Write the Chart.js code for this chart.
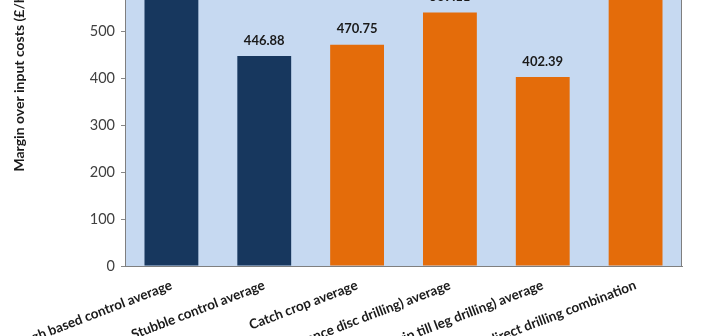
<!DOCTYPE html>
<html>
<head>
<meta charset="utf-8">
<script src="https://cdn.jsdelivr.net/npm/chart.js@4"></script>
<style>
    html, body { margin: 0; padding: 0; background: #fff; overflow: hidden; }
    #wrap { position: relative; width: 702px; height: 336px; overflow: hidden; }
    #grafico { position: absolute; left: 0; top: -130px; }
</style>
</head>
<body>
<div id="wrap"><canvas id="grafico" width="702" height="466"></canvas></div>
<script>
// datos
const categorias = [
    'Plough based control average',
    'Stubble control average',
    'Catch crop average',
    'Catch crop (low disturbance disc drilling) average',
    'Catch crop (strip till leg drilling) average',
    'Catch crop & direct drilling combination'
];
const margenes = [622.40, 446.88, 470.75, 539.11, 402.39, 668.52];
const coloresBarras = ['#17375E', '#17375E', '#E46C0A', '#E46C0A', '#E46C0A', '#E46C0A'];
const ticksY = [0, 100, 200, 300, 400, 500, 600, 700, 800];

// fondo y marco del area del grafico
const fondoArea = {
    id: 'fondoArea',
    beforeDraw(chart) {
        const a = chart.chartArea;
        const ctx = chart.ctx;
        ctx.save();
        ctx.fillStyle = '#C6D9F1';
        ctx.fillRect(a.left, a.top, a.right - a.left, a.bottom - a.top);
        ctx.restore();
    },
    afterDraw(chart) {
        const a = chart.chartArea;
        const ctx = chart.ctx;
        ctx.save();
        ctx.strokeStyle = '#7F7F7F';
        ctx.lineWidth = 1;
        ctx.strokeRect(a.left + 0.5, a.top + 0.5, a.right - a.left - 1, a.bottom - a.top);
        ctx.restore();
    }
};

// etiquetas de valor encima de cada barra
const etiquetasValor = {
    id: 'etiquetasValor',
    afterDatasetsDraw(chart) {
        const ctx = chart.ctx;
        const meta = chart.getDatasetMeta(0);
        ctx.save();
        ctx.font = 'bold 13px Lato';
        ctx.fillStyle = '#1a1a1a';
        ctx.textAlign = 'center';
        ctx.textBaseline = 'bottom';
        meta.data.forEach(function (barra, i) {
            ctx.fillText(margenes[i].toFixed(2), barra.x, barra.y - 9);
        });
        ctx.restore();
    }
};

const myChart = new Chart(document.getElementById('grafico'), {
    type: 'bar',
    data: {
        labels: categorias,
        datasets: [{
            data: margenes,
            backgroundColor: coloresBarras,
            borderWidth: 0,
            barPercentage: 0.58,
            categoryPercentage: 1
        }]
    },
    options: {
        responsive: false,
        animation: false,
        layout: { padding: { top: 20, right: 20, left: 0, bottom: 0 } },
        plugins: {
            legend: { display: false },
            tooltip: { enabled: false }
        },
        scales: {
            x: {
                grid: { display: false, drawTicks: false },
                border: { display: true, color: '#868686' },
                ticks: {
                    autoSkip: false,
                    minRotation: 21,
                    maxRotation: 21,
                    padding: 11,
                    color: '#1a1a1a',
                    font: { family: 'Lato', size: 13.5, weight: 'bold' }
                },
                afterFit(scale) {
                    // las etiquetas largas se cortan en el borde, como en el original
                    scale.height = 70;
                    scale.paddingLeft = 0;
                    scale.paddingRight = 0;
                }
            },
            y: {
                min: 0,
                max: 800,
                afterBuildTicks(scale) { scale.ticks = ticksY.map(v => ({ value: v })); },
                grid: {
                    display: true,
                    drawOnChartArea: false,
                    drawTicks: true,
                    tickLength: 4,
                    color: '#868686'
                },
                border: { display: true, color: '#868686' },
                ticks: {
                    padding: 6,
                    color: '#404040',
                    font: { family: 'Lato', size: 14.5 }
                },
                title: {
                    display: true,
                    text: 'Margin over input costs (£/ha)',
                    color: '#1a1a1a',
                    font: { family: 'Lato', size: 14, weight: 'bold' },
                    padding: { top: 11, bottom: 0 }
                },
                afterFit(scale) { scale.width = 125; }
            }
        }
    },
    plugins: [fondoArea, etiquetasValor]
});
</script>
</body>
</html>
